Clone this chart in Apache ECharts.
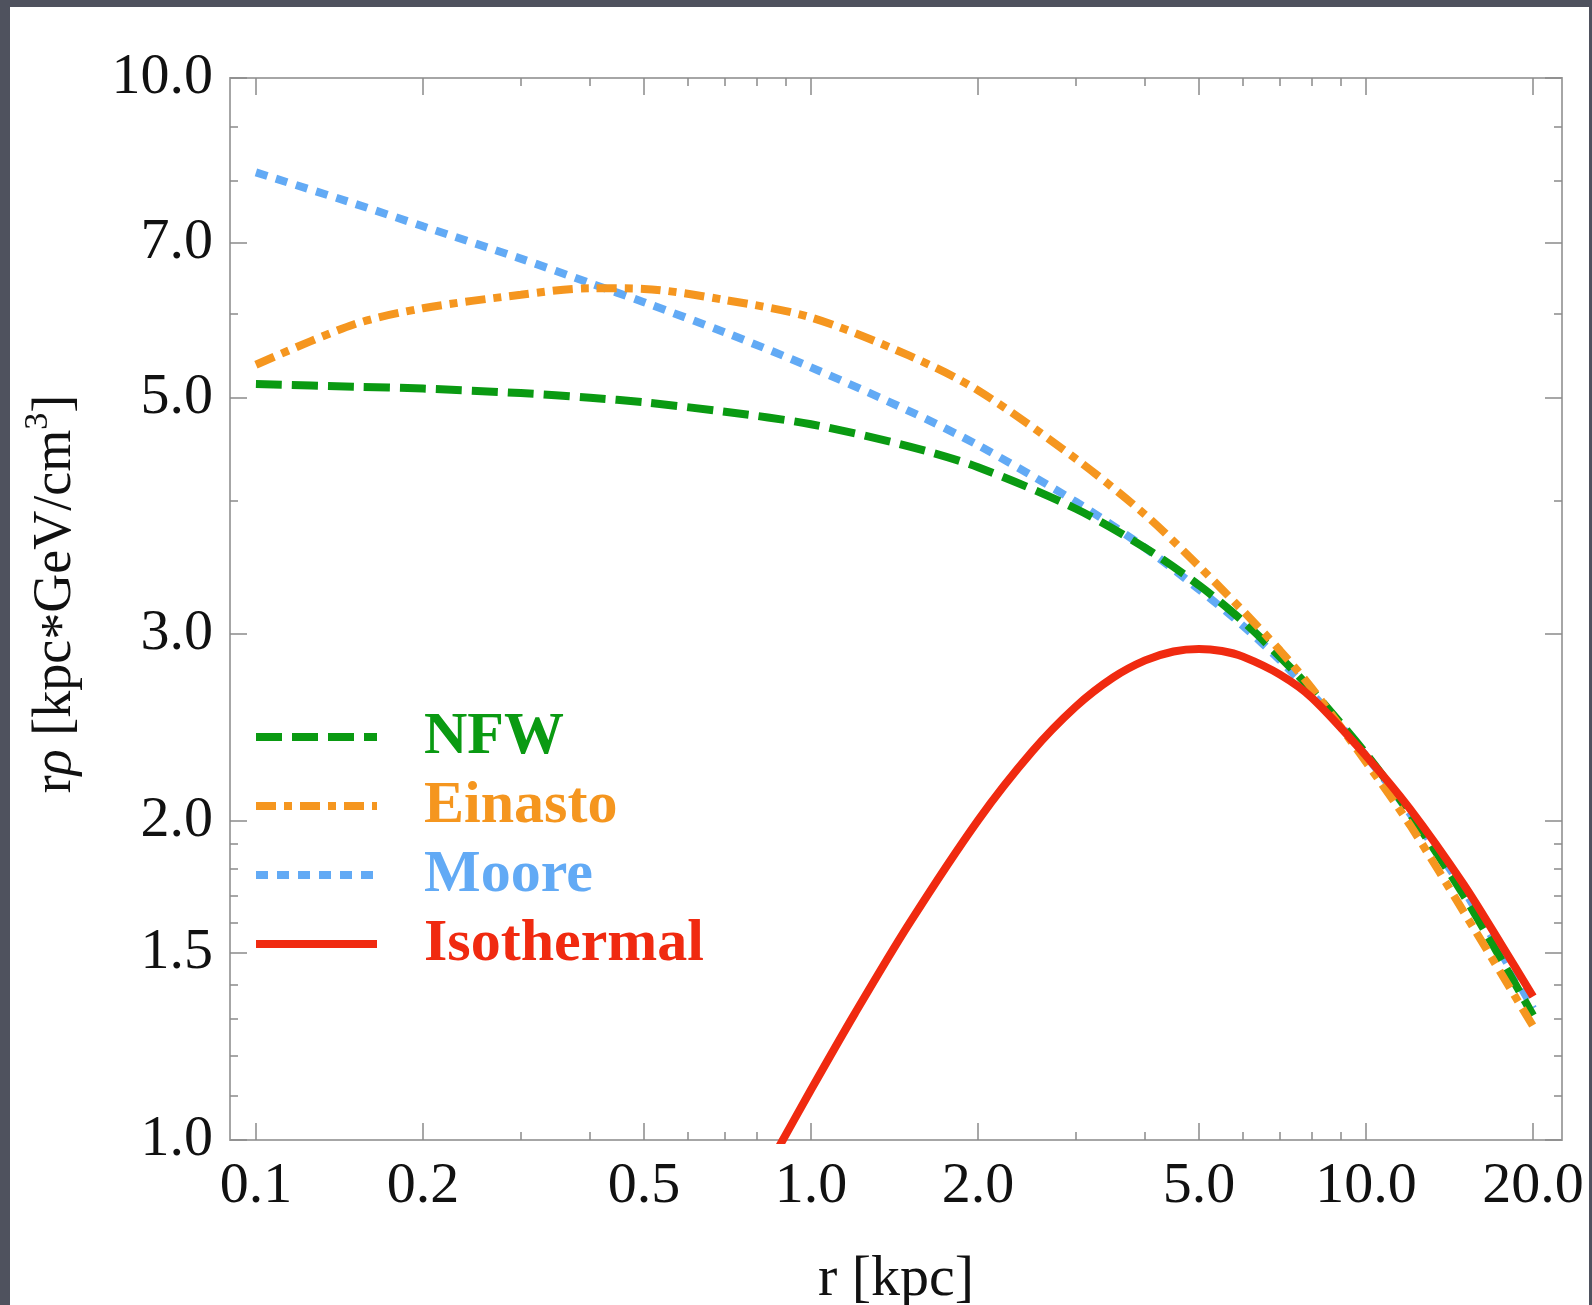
<!DOCTYPE html>
<html>
<head>
<meta charset="utf-8">
<title>r rho profiles</title>
<script src="https://cdn.jsdelivr.net/npm/echarts@6.0.0/dist/echarts.min.js"></script>
<style>
  html, body { margin: 0; padding: 0; }
  body { width: 1592px; height: 1305px; background: #4f525e; position: relative; overflow: hidden; }
  #chart { position: absolute; left: 10px; top: 7px; width: 1579px; height: 1298px; background: #fff; }
</style>
</head>
<body>
<div id="chart"></div>
<script>
// radius grid in kpc, shared by NFW / Einasto / Moore
const rGrid = [0.1, 0.15, 0.2, 0.3, 0.4, 0.5, 0.7, 1, 1.5, 2, 3, 4, 5, 6, 7, 8, 10, 12, 15, 20]
const nfwValues = [5.15, 5.12, 5.10, 5.05, 5.00, 4.95, 4.85, 4.72, 4.50, 4.30, 3.93, 3.61, 3.33, 3.08, 2.85, 2.65, 2.31, 2.03, 1.70, 1.31]
const einastoValues = [5.37, 5.86, 6.07, 6.25, 6.34, 6.33, 6.18, 5.95, 5.48, 5.08, 4.38, 3.88, 3.47, 3.15, 2.89, 2.66, 2.27, 1.98, 1.64, 1.28]
const mooreValues = [8.15, 7.62, 7.25, 6.76, 6.41, 6.15, 5.76, 5.34, 4.86, 4.51, 3.99, 3.61, 3.30, 3.05, 2.83, 2.63, 2.30, 2.03, 1.72, 1.33]
// isothermal starts below the y range, clipped by the grid
const isoR = [0.85, 1, 1.2, 1.5, 2, 2.5, 3, 3.5, 4, 4.5, 5, 5.5, 6, 7, 8, 10, 12, 15, 17.5, 20]
const isoValues = [0.958, 1.115, 1.316, 1.596, 2.0, 2.32, 2.559, 2.725, 2.829, 2.884, 2.90, 2.887, 2.852, 2.743, 2.607, 2.30, 2.05, 1.74, 1.53, 1.365]

// ticks
const xMajorTicks = [0.1, 0.2, 0.5, 1, 2, 5, 10, 20]
const xTickLabels = ['0.1', '0.2', '0.5', '1.0', '2.0', '5.0', '10.0', '20.0']
const xMinorTicks = [0.3, 0.4, 0.6, 0.7, 0.8, 0.9, 3, 4, 6, 7, 8, 9]
const yMajorTicks = [1, 1.5, 2, 3, 5, 7, 10]
const yTickLabels = ['1.0', '1.5', '2.0', '3.0', '5.0', '7.0', '10.0']
const yMinorTicks = [1.1, 1.2, 1.3, 1.4, 1.6, 1.7, 1.8, 1.9, 4, 6, 8, 9]

const FONT = '"Liberation Serif", "Times New Roman", serif'
const frameColor = '#a6a6a6'
const tickColor = '#8a8a8a'
const colors = { nfw: '#0a9a12', einasto: '#f5961f', moore: '#62aaf5', iso: '#f02a10' }

const pickLabel = (ticks, labels) => (v) => {
  const i = ticks.findIndex((t) => Math.abs(Math.log10(t) - Math.log10(v)) < 1e-6)
  return i < 0 ? '' : labels[i]
}

// one axis: frame line + a set of inside ticks (major or minor)
const makeAxis = (base, position, ticks, len, withLine) => ({
  ...base,
  position,
  splitLine: { show: false },
  axisLine: { show: withLine, onZero: false, lineStyle: { color: frameColor, width: 2 } },
  axisTick: { show: true, inside: true, length: len, customValues: ticks, lineStyle: { color: tickColor, width: 1.5 } },
  axisLabel: { show: false }
})

const xBase = { type: 'log', logBase: 10, min: 0.0898, max: 22.55, gridIndex: 0 }
const yBase = { type: 'log', logBase: 10, min: 1, max: 10, gridIndex: 0 }

const xMain = makeAxis(xBase, 'bottom', xMajorTicks, 17, true)
xMain.axisLabel = {
  show: true, customValues: xMajorTicks, formatter: pickLabel(xMajorTicks, xTickLabels),
  margin: 18, fontFamily: FONT, fontSize: 58, color: '#111'
}
xMain.name = 'r [kpc]'
xMain.nameLocation = 'middle'
xMain.nameGap = 111
xMain.nameMoveOverlap = false
xMain.nameTextStyle = { fontFamily: FONT, fontSize: 58, color: '#111' }

const yMain = makeAxis(yBase, 'left', yMajorTicks, 17, true)
yMain.axisLabel = {
  show: true, customValues: yMajorTicks, formatter: pickLabel(yMajorTicks, yTickLabels),
  margin: 17, fontFamily: FONT, fontSize: 58, color: '#111'
}
// the asterisk is lowered to sit on the math axis, the 3 is raised
yMain.name = 'r{i|ρ} [kpc{a|*}GeV/cm{s|3}]'
yMain.nameLocation = 'middle'
yMain.nameGap = 139
yMain.nameMoveOverlap = false
yMain.nameTextStyle = {
  fontFamily: FONT, fontSize: 54, color: '#111', lineHeight: 70, padding: [0, 0, 0, 30],
  rich: {
    i: { fontFamily: FONT, fontSize: 54, fontStyle: 'italic', color: '#111', lineHeight: 70 },
    a: { fontFamily: FONT, fontSize: 54, color: '#111', lineHeight: 42, verticalAlign: 'bottom' },
    s: { fontFamily: FONT, fontSize: 34, color: '#111', lineHeight: 34, verticalAlign: 'top' }
  }
}

const lineSeries = (name, xs, ys, color, dash, z) => ({
  name,
  type: 'line',
  data: xs.map((x, i) => [x, ys[i]]),
  symbol: 'none',
  smooth: 0.3,
  clip: true,
  z,
  itemStyle: { color },
  lineStyle: { color, width: 8, type: dash, cap: 'butt' }
})

const chart = echarts.init(document.getElementById('chart'))
chart.setOption({
  animation: false,
  backgroundColor: '#fff',
  grid: { left: 220, top: 71, width: 1332, height: 1062, outerBoundsMode: 'none', containLabel: false },
  xAxis: [
    xMain,
    makeAxis(xBase, 'bottom', xMinorTicks, 8, false),
    makeAxis(xBase, 'top', xMajorTicks, 17, true),
    makeAxis(xBase, 'top', xMinorTicks, 8, false)
  ],
  yAxis: [
    yMain,
    makeAxis(yBase, 'left', yMinorTicks, 8, false),
    makeAxis(yBase, 'right', yMajorTicks, 17, true),
    makeAxis(yBase, 'right', yMinorTicks, 8, false)
  ],
  legend: {
    orient: 'vertical',
    left: 242,
    top: 700,
    padding: 0,
    itemWidth: 121,
    itemHeight: 10,
    itemGap: 9,
    selectedMode: false,
    itemStyle: { opacity: 0 },
    lineStyle: { width: 8, cap: 'butt' },
    textStyle: { fontFamily: FONT, fontSize: 60, fontWeight: 'bold', lineHeight: 60, padding: [0, 0, 0, 42] },
    data: [
      { name: 'NFW', textStyle: { color: colors.nfw } },
      { name: 'Einasto', textStyle: { color: colors.einasto } },
      { name: 'Moore', textStyle: { color: colors.moore } },
      { name: 'Isothermal', textStyle: { color: colors.iso } }
    ]
  },
  series: [
    lineSeries('Moore', rGrid, mooreValues, colors.moore, [12, 9], 2),
    lineSeries('NFW', rGrid, nfwValues, colors.nfw, [26, 10], 3),
    lineSeries('Einasto', rGrid, einastoValues, colors.einasto, [20, 8, 8, 8], 4),
    lineSeries('Isothermal', isoR, isoValues, colors.iso, 'solid', 5)
  ]
})
</script>
</body>
</html>
